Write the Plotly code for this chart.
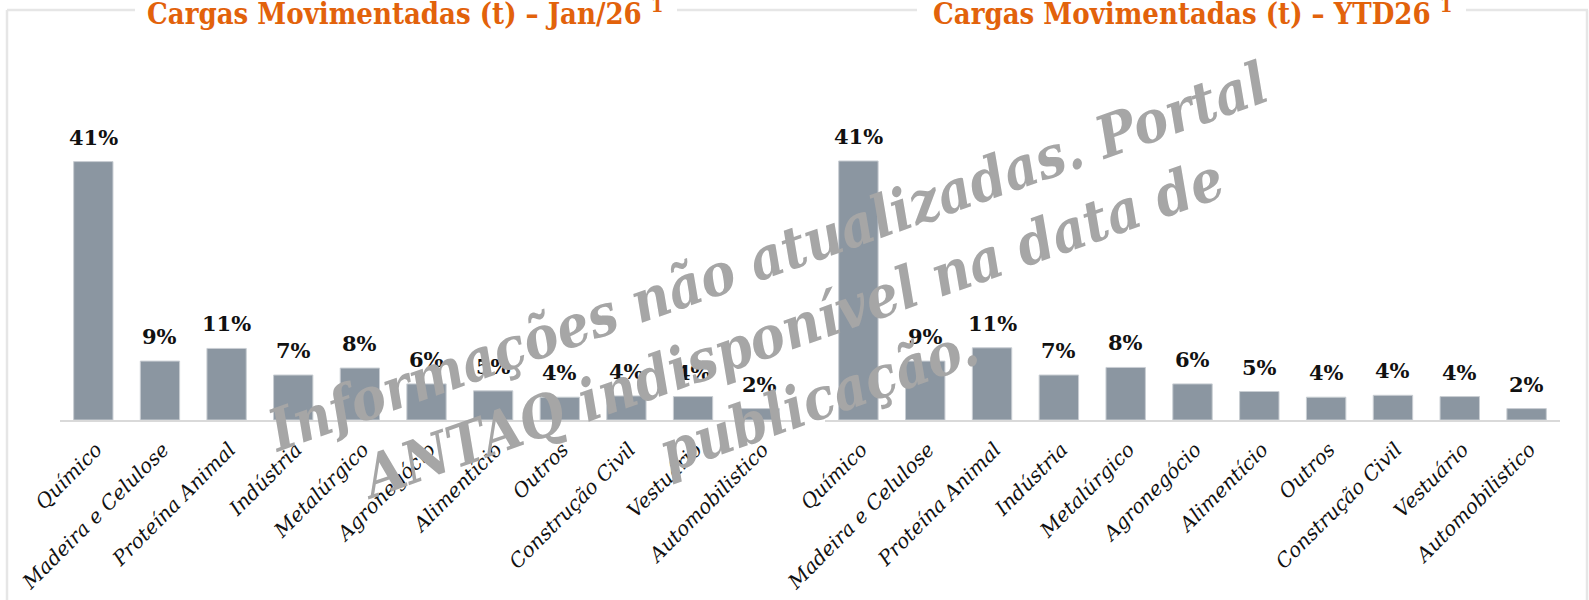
import plotly.graph_objects as go

categories = ["Químico", "Madeira e Celulose", "Proteína Animal", "Indústria", "Metalúrgico",
              "Agronegócio", "Alimentício", "Outros", "Construção Civil", "Vestuário", "Automobilistico"]
jan_values = [40.8, 9.3, 11.3, 7.1, 8.2, 5.7, 4.6, 3.6, 3.8, 3.7, 1.8]
ytd_values = [40.9, 9.3, 11.4, 7.1, 8.3, 5.7, 4.5, 3.6, 3.9, 3.7, 1.8]
jan_labels = ["41%", "9%", "11%", "7%", "8%", "6%", "5%", "4%", "4%", "4%", "2%"]
ytd_labels = ["41%", "9%", "11%", "7%", "8%", "6%", "5%", "4%", "4%", "4%", "2%"]
title_jan = "Cargas Movimentadas (t) – Jan/26 <sup>1</sup>"
title_ytd = "Cargas Movimentadas (t) – YTD26 <sup>1</sup>"
watermark = "Informações não atualizadas. Portal<br>ANTAQ indisponível na data de<br>publicação."

W, H = 1589, 600
BAR = "#8B96A1"
ORANGE = "#E2620B"
GRID = "#D9D9D9"

fig = go.Figure()
fig.add_trace(go.Bar(x=categories, y=jan_values, marker=dict(color=BAR, line=dict(color="#C9CED3", width=1)),
                     xaxis="x", yaxis="y", width=0.59, hoverinfo="skip"))
fig.add_trace(go.Bar(x=categories, y=ytd_values, marker=dict(color=BAR, line=dict(color="#C9CED3", width=1)),
                     xaxis="x2", yaxis="y2", width=0.59, hoverinfo="skip"))

annotations = []
for xr, yr, vals, labs in [("x", "y", jan_values, jan_labels), ("x2", "y2", ytd_values, ytd_labels)]:
    for c, v, t in zip(categories, vals, labs):
        annotations.append(dict(x=c, y=v, xref=xr, yref=yr, text=t, showarrow=False,
                                yanchor="bottom", yshift=10,
                                font=dict(family="DejaVu Serif", size=21, color="#111111", weight="bold")))

annotations.append(dict(x=405 / W, y=1 - 12 / H, xref="paper", yref="paper", text=title_jan, showarrow=False,
                        xanchor="center", yanchor="middle",
                        font=dict(family="DejaVu Serif Condensed", size=29, color=ORANGE, weight="bold")))
annotations.append(dict(x=1192 / W, y=1 - 12 / H, xref="paper", yref="paper", text=title_ytd, showarrow=False,
                        xanchor="center", yanchor="middle",
                        font=dict(family="DejaVu Serif Condensed", size=29, color=ORANGE, weight="bold")))
annotations.append(dict(x=792 / W, y=1 - 328 / H, xref="paper", yref="paper", text=watermark, showarrow=False,
                        xanchor="center", yanchor="middle", textangle=-19.5,
                        font=dict(family="DejaVu Serif Condensed", size=58, color="#A6A6A6",
                                  weight="bold", style="italic")))

shapes = []
for x0, x1 in [(7, 135), (677, 917), (1466, 1588)]:
    shapes.append(dict(type="line", xref="paper", yref="paper", x0=x0 / W, x1=x1 / W,
                       y0=1 - 10 / H, y1=1 - 10 / H, line=dict(color="#E6E6E6", width=2.5)))
for xx in [7, 1587]:
    shapes.append(dict(type="line", xref="paper", yref="paper", x0=xx / W, x1=xx / W,
                       y0=0, y1=1 - 10 / H, line=dict(color="#E6E6E6", width=2.5)))

xcommon = dict(type="category", showline=True, linecolor=GRID, linewidth=2, ticks="", showgrid=False,
               tickangle=-45, ticklabelstandoff=8, ticklabelshift=3,
               tickfont=dict(family="DejaVu Serif", size=20, color="#111111", style="italic"),
               fixedrange=True, automargin=False)
ycommon = dict(range=[0, 45], visible=False, showgrid=False, fixedrange=True,
               domain=[(H - 420) / H, (H - 135) / H])

fig.update_layout(
    width=W, height=H, margin=dict(l=0, r=0, t=0, b=0),
    paper_bgcolor="white", plot_bgcolor="white", showlegend=False,
    xaxis=dict(domain=[60 / W, 793 / W], **xcommon),
    xaxis2=dict(domain=[825 / W, 1560 / W], anchor="y2", **xcommon),
    yaxis=dict(anchor="x", **ycommon),
    yaxis2=dict(anchor="x2", **ycommon),
    annotations=annotations, shapes=shapes,
)

fig.write_html("out.html", config={"displayModeBar": False, "staticPlot": True},
               post_script="document.body.style.margin='0';document.body.style.overflow='hidden';")
